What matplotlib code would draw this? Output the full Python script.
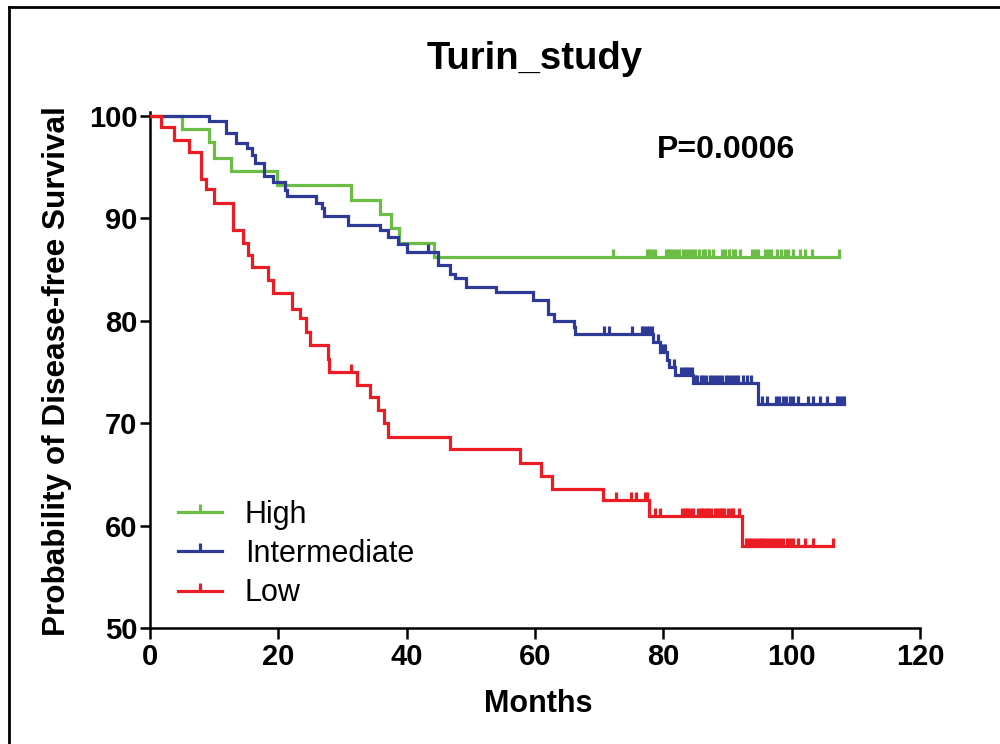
import numpy as np
import matplotlib
matplotlib.use("Agg")
import matplotlib.pyplot as plt
from matplotlib.path import Path
from matplotlib.lines import Line2D

# ---------------- data ----------------
high_event_t = [5.0, 9.25, 10.0, 12.6, 19.75, 31.3, 35.8, 37.5, 38.85, 44.2]
high_surv = [98.7, 97.5, 95.9, 94.6, 93.3, 91.8, 90.4, 89.1, 87.6, 86.2]
high_censor_t = [72.2, 77.4, 77.8, 78.2, 78.7, 80.4, 80.8, 81.1, 81.5, 82.0, 82.5,
                 83.0, 83.5, 84.0, 84.5, 85.0, 85.5, 86.2, 86.5, 87.1, 87.8, 89.1,
                 89.6, 90.2, 90.8, 91.2, 92.0, 93.8, 94.3, 94.8, 95.8, 96.3, 96.8,
                 97.7, 98.3, 98.9, 99.5, 100.2, 101.3, 102.1, 103.1, 107.3]
high_end = 107.3

inter_event_t = [9.2, 11.85, 13.4, 15.1, 15.85, 16.4, 17.7, 19.2, 21.0, 21.3, 25.8,
                 26.75, 27.1, 30.9, 35.8, 37.1, 38.7, 40.0, 44.9, 46.75, 47.5, 49.2,
                 53.9, 59.7, 62.1, 63.0, 66.0, 66.2, 78.4, 79.5, 80.5, 80.9, 81.8,
                 84.6, 94.8]
inter_surv = [99.5, 98.3, 97.4, 96.9, 96.2, 95.4, 94.1, 93.6, 92.8, 92.2, 91.5,
              91.0, 90.2, 89.4, 88.9, 88.15, 87.5, 86.75, 85.45, 84.6, 84.15, 83.3,
              82.8, 82.0, 80.7, 80.0, 79.4, 78.7, 77.9, 77.0, 76.2, 75.5, 74.7,
              73.9, 71.9]
inter_censor_t = [43.4, 70.8, 71.6, 75.1, 76.6, 77.0, 77.4, 77.8, 78.2, 79.2, 79.7,
                  80.0, 80.3, 81.7, 82.8, 83.2, 83.6, 84.0, 84.4, 84.9, 85.3, 85.8,
                  86.2, 86.7, 87.2, 87.7, 88.2, 88.7, 89.2, 89.7, 90.2, 90.7, 91.2,
                  91.7, 92.4, 93.0, 93.7, 95.3, 96.1, 97.6, 98.1, 98.6, 99.1, 99.7,
                  100.2, 101.0, 102.6, 103.4, 104.4, 105.5, 107.0, 107.4, 107.8, 108.2]
inter_end = 108.2

low_event_t = [1.7, 3.8, 6.0, 7.95, 8.8, 9.9, 13.0, 14.5, 15.3, 15.85, 18.4, 19.2,
               22.2, 23.4, 24.3, 25.0, 27.7, 27.95, 32.2, 34.3, 35.6, 36.4, 37.1,
               46.7, 57.7, 60.9, 62.6, 70.6, 77.7, 92.2]
low_surv = [98.9, 97.7, 96.45, 93.8, 92.85, 91.5, 88.9, 87.6, 86.4, 85.3, 84.0, 82.7,
            81.2, 80.25, 78.9, 77.6, 76.3, 75.0, 73.7, 72.6, 71.3, 70.0, 68.7,
            67.45, 66.15, 64.85, 63.55, 62.5, 60.9, 58.0]
low_censor_t = [31.3, 72.6, 75.0, 75.8, 77.1, 77.5, 78.7, 79.5, 82.9, 83.3, 83.7,
                84.1, 84.6, 85.4, 85.8, 86.2, 86.6, 87.0, 87.5, 88.0, 88.4, 88.8,
                89.1, 89.5, 90.0, 90.6, 90.9, 91.8, 92.9, 93.3, 93.7, 94.1, 94.6,
                95.0, 95.4, 95.9, 96.3, 96.8, 97.2, 97.7, 98.2, 98.7, 99.2, 99.7,
                100.2, 101.0, 102.1, 103.4, 106.5]
low_end = 106.5

groups = ["High", "Intermediate", "Low"]
colors = {"High": "#6CBD45", "Intermediate": "#2E3A97", "Low": "#EC1C24"}

x_ticks = [0, 20, 40, 60, 80, 100, 120]
y_ticks = [50, 60, 70, 80, 90, 100]
title = "Turin_study"
p_text = "P=0.0006"

# ---------------- plotting ----------------
plt.rcParams['font.family'] = ['Liberation Sans', 'DejaVu Sans']

fig = plt.figure(figsize=(10.0, 7.44), dpi=100)
ax = fig.add_axes([0.15, 0.1559, 0.77, 0.693])

tick_marker = Path([(0, 0), (0, 1)], [Path.MOVETO, Path.LINETO])
LW = 2.3
MS = 11.6


def km_draw(event_t, surv, censor_t, end_t, color, z):
    t = np.concatenate([[0.0], np.asarray(event_t), [end_t]])
    s = np.concatenate([[100.0], np.asarray(surv), [surv[-1]]])
    ax.step(t, s, where='post', color=color, lw=LW, zorder=z,
            solid_joinstyle='miter')
    ct = np.asarray(censor_t)
    idx = np.searchsorted(t, ct, side='right') - 1
    cs = s[idx]
    ax.plot(ct, cs, linestyle='none', marker=tick_marker, markersize=MS,
            markeredgewidth=LW, color=color, zorder=z)


km_draw(high_event_t, high_surv, high_censor_t, high_end, colors["High"], 3)
km_draw(inter_event_t, inter_surv, inter_censor_t, inter_end, colors["Intermediate"], 4)
km_draw(low_event_t, low_surv, low_censor_t, low_end, colors["Low"], 5)

ax.set_xlim(0, 120)
ax.set_ylim(50, 100.35)
ax.set_xticks(x_ticks)
ax.set_yticks(y_ticks)
for side in ['top', 'right']:
    ax.spines[side].set_visible(False)
for side in ['left', 'bottom']:
    ax.spines[side].set_linewidth(1.8)
    ax.spines[side].set_color('black')
ax.tick_params(axis='both', direction='out', width=1.8, color='black',
               labelsize=21)
ax.tick_params(axis='y', length=7, pad=2)
ax.tick_params(axis='x', length=8, pad=3)
for lab in ax.get_xticklabels() + ax.get_yticklabels():
    lab.set_fontweight('bold')

ax.set_xlabel("Months", fontsize=22, fontweight='bold', va='baseline')
ax.xaxis.set_label_coords(0.504, -0.163)
ax.set_ylabel("Probability of Disease-free Survival", fontsize=22.7,
              fontweight='bold', va='baseline')
ax.yaxis.set_label_coords(-0.1104, 0.4975)

ax.set_title(title, fontsize=27.5, fontweight='bold', y=1.084, pad=0,
             va='baseline')

ax.text(79.0, 95.85, p_text, fontsize=23, fontweight='bold', ha='left',
        va='baseline')

handles = [Line2D([], [], color=colors[g], lw=LW, marker=tick_marker,
                  markersize=MS, markeredgewidth=LW) for g in groups]
ax.legend(handles, groups, loc='upper left', bbox_to_anchor=(0.178, 0.328),
          bbox_transform=fig.transFigure, frameon=False, fontsize=22,
          handlelength=1.44, handletextpad=0.75, labelspacing=0.3,
          borderpad=0, borderaxespad=0, numpoints=1)

# outer frame (left and top edges visible in the reference)
fig.add_artist(Line2D([0.009, 0.009], [0.0, 0.9906], transform=fig.transFigure,
                      color='black', lw=2.0))
fig.add_artist(Line2D([0.009, 1.0], [0.9906, 0.9906], transform=fig.transFigure,
                      color='black', lw=2.0))

fig.savefig("out.png", dpi=100)
